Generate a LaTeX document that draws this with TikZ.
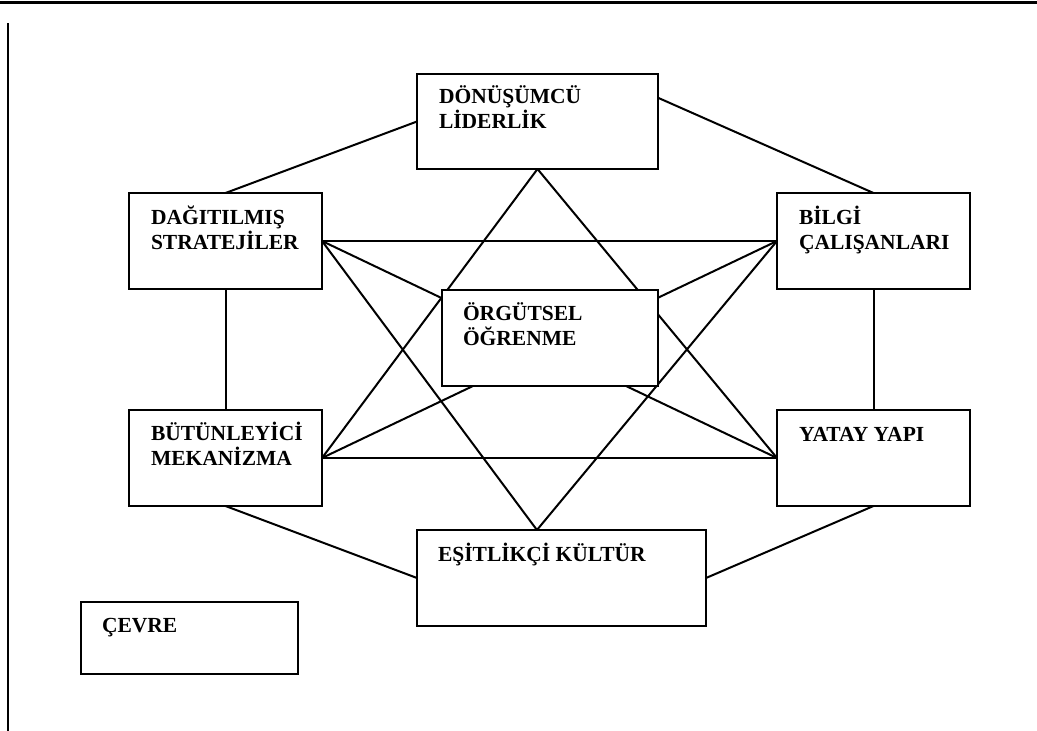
\documentclass[tikz,border=0pt]{standalone}
\usepackage{fontspec}
\setmainfont{Liberation Serif}
\usetikzlibrary{calc,backgrounds}
\newcommand{\boxlines}[2]{\vtop{\hbox{#1}\hbox{#2}}}
\tikzset{
  box/.style={draw, fill=white, line width=2.8pt, outer sep=0pt, inner sep=0pt, rectangle},
  lbl/.style={anchor=base west, inner sep=0pt, outer sep=0pt, font=\fontsize{21.5}{25.5}\selectfont\bfseries},
  conn/.style={line width=2pt, line cap=round}
}
\begin{document}
\begin{tikzpicture}[x=1pt,y=-1pt]
\useasboundingbox (0,0) rectangle (1037,731);
% page frame lines
\draw[line width=2.8pt] (0,2.5) -- (1037,2.5);
\draw[line width=1.8pt] (8,23) -- (8,731);
% boxes
\node[box, minimum width=241pt, minimum height=95pt] (d) at (537.5,121.5) {};
\node[box, minimum width=193pt, minimum height=96pt] (s) at (225.5,241) {};
\node[box, minimum width=193pt, minimum height=96pt] (b) at (873.5,241) {};
\node[box, minimum width=216pt, minimum height=96pt] (o) at (550,338) {};
\node[box, minimum width=193pt, minimum height=96pt] (m) at (225.5,458) {};
\node[box, minimum width=193pt, minimum height=96pt] (y) at (873.5,458) {};
\node[box, minimum width=289pt, minimum height=96pt] (e) at (561.5,578) {};
\node[box, minimum width=217pt, minimum height=72pt] (c) at (189.5,638) {};
% attachment points
\coordinate (dr) at ($(d.north east)!0.25!(d.south east)$);
\coordinate (et) at ($(e.north west)!0.415!(e.north east)$);
% labels
\node[lbl] (td) at (439,103) {\boxlines{DÖNÜŞÜMCÜ}{LİDERLİK}};
\node[lbl] (ts) at (151,224) {\boxlines{DAĞITILMIŞ}{STRATEJİLER}};
\node[lbl] (tb) at (799,224) {\boxlines{BİLGİ}{ÇALIŞANLARI}};
\node[lbl] (to) at (463,320) {\boxlines{ÖRGÜTSEL}{ÖĞRENME}};
\node[lbl] (tm) at (151,440) {\boxlines{BÜTÜNLEYİCİ}{MEKANİZMA}};
\node[lbl] (ty) at (799,441) {YATAY YAPI};
\node[lbl] (te) at (438,561) {EŞİTLİKÇİ KÜLTÜR};
\node[lbl] (tc) at (102,632) {ÇEVRE};
% connectors behind boxes
\begin{pgfonlayer}{background}
\draw[conn] (s.north) -- (d.west);
\draw[conn] (dr) -- (b.north);
\draw[conn] (s.south) -- (m.north);
\draw[conn] (b.south) -- (y.north);
\draw[conn] (m.south) -- (e.west);
\draw[conn] (y.south) -- (e.east);
\draw[conn] (s.east) -- (b.west);
\draw[conn] (m.east) -- (y.west);
\draw[conn] (s.east) -- (y.west);
\draw[conn] (b.west) -- (m.east);
\draw[conn] (d.south) -- (m.east);
\draw[conn] (d.south) -- (y.west);
\draw[conn] (et) -- (s.east);
\draw[conn] (et) -- (b.west);
\end{pgfonlayer}
\end{tikzpicture}
\end{document}
